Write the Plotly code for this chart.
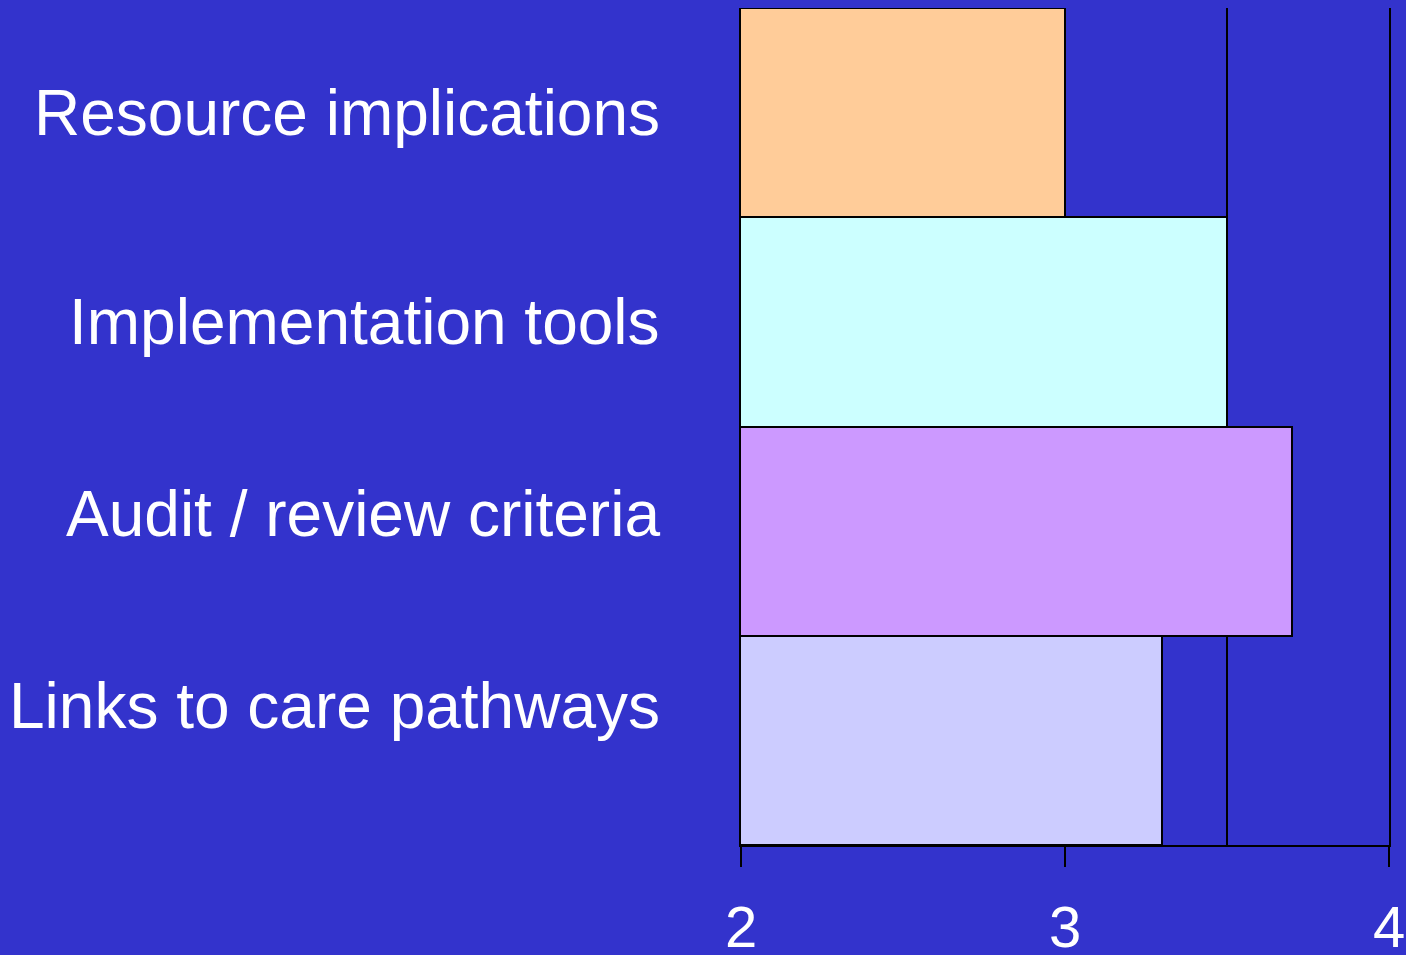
import plotly.graph_objects as go

# categories listed top to bottom
categories = ["Resource implications", "Implementation tools",
              "Audit / review criteria", "Links to care pathways"]
scores = [3.0, 3.5, 3.7, 3.3]
bar_colors = ["#FFCC99", "#CCFFFF", "#CC99FF", "#CCCCFF"]
x_ticks = [2, 3, 4]

# the category text boxes sit a little off the bar centres in the original
label_yshift = [0, 0, 17, 34]

BG = "#3333CC"
FONT = "Liberation Sans, Arial, sans-serif"

fig = go.Figure(go.Bar(
    y=categories,
    x=scores,
    orientation="h",
    marker=dict(color=bar_colors, line=dict(color="black", width=2)),
))

for cat, dy in zip(categories, label_yshift):
    fig.add_annotation(
        x=0, xref="paper", xanchor="right", xshift=-79,
        y=cat, yref="y", yanchor="middle", yshift=dy,
        text=cat, showarrow=False,
        font=dict(family=FONT, size=64, color="white"),
    )

fig.update_layout(
    width=1406, height=955,
    paper_bgcolor=BG, plot_bgcolor=BG,
    margin=dict(l=741, r=17, t=8, b=110, autoexpand=False),
    bargap=0,
    showlegend=False,
    font=dict(family=FONT, color="white"),
    xaxis=dict(
        range=[2, 4],
        tickvals=x_ticks,
        ticks="outside", ticklen=20, tickwidth=2, tickcolor="black",
        tickfont=dict(size=58, color="white"),
        ticklabelstandoff=10,
        automargin=False,
        showline=True, linecolor="black", linewidth=2,
        showgrid=True, gridcolor="black", gridwidth=2,
        minor=dict(dtick=0.5, showgrid=True, gridcolor="black", gridwidth=2),
        zeroline=False,
    ),
    yaxis=dict(
        autorange="reversed",
        showticklabels=False,
        automargin=False,
        showline=True, mirror=True, linecolor="black", linewidth=2,
        showgrid=False, zeroline=False,
    ),
)

# drop the default page margin so the chart fills the window
fig.write_html("out.html", config={"displayModeBar": False},
               post_script="document.body.style.margin='0';")
